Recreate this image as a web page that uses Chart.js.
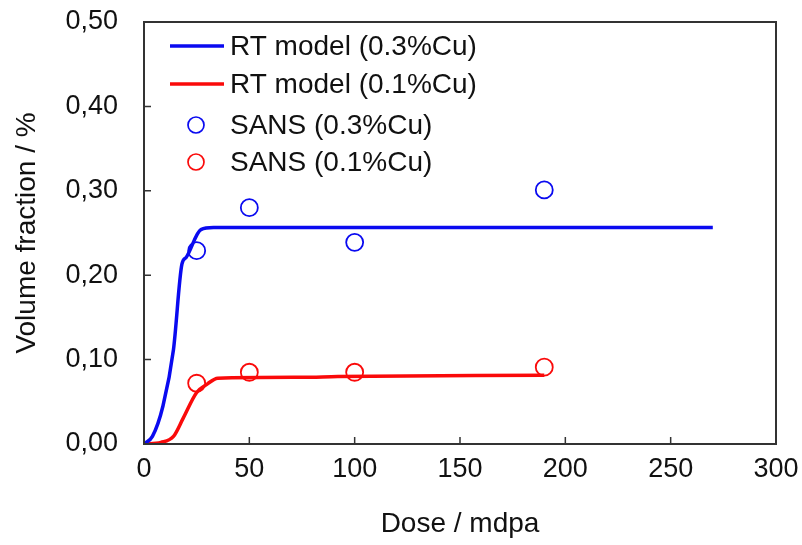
<!DOCTYPE html>
<html>
<head>
<meta charset="UTF-8" />
<title>Volume fraction vs dose</title>
<script src="https://cdn.jsdelivr.net/npm/chart.js"></script>
<style>
  body { margin: 0; background: #fff; }
  #wrap { width: 802px; height: 545px; }
</style>
</head>
<body>
<div id="wrap"><canvas id="myChart"></canvas></div>
<script>
// model curves
var rtHighX = [0, 4, 9, 14, 18, 20, 27, 33, 270];
var rtHighY = [0, 0.009, 0.045, 0.112, 0.213, 0.221, 0.254, 0.2565, 0.2565];
var rtLowX = [0, 8, 14, 18.5, 25, 30, 35, 75, 92, 190];
var rtLowY = [0, 0.002, 0.009, 0.030, 0.061, 0.071, 0.078, 0.079, 0.080, 0.0815];

// SANS measurements
var sansDose = [25, 50, 100, 190];
var sansHigh = [0.229, 0.280, 0.239, 0.301];
var sansLow = [0.072, 0.085, 0.085, 0.091];

var labels = ["RT model (0.3%Cu)", "RT model (0.1%Cu)", "SANS (0.3%Cu)", "SANS (0.1%Cu)"];
var xTicks = [0, 50, 100, 150, 200, 250, 300];
var yTicks = [0, 0.1, 0.2, 0.3, 0.4, 0.5];

var blue = "rgb(10,10,240)";
var red = "rgb(250,10,10)";
var axisColor = "#333";
var font = "Liberation Sans, Arial, sans-serif";

function pts(xs, ys) {
  var out = [];
  for (var i = 0; i < xs.length; i++) out.push({ x: xs[i], y: ys[i] });
  return out;
}

// box, inward ticks and legend
var decor = {
  id: "decor",
  afterDraw: function (chart) {
    var c = chart.ctx, a = chart.chartArea;
    var xs = chart.scales.x, ys = chart.scales.y;
    c.save();
    c.strokeStyle = axisColor;
    c.lineWidth = 2;
    c.strokeRect(a.left, a.top, a.right - a.left, a.bottom - a.top);
    c.lineWidth = 1.5;
    c.beginPath();
    xTicks.slice(1, -1).forEach(function (v) {
      var px = xs.getPixelForValue(v);
      c.moveTo(px, a.bottom);
      c.lineTo(px, a.bottom - 7);
    });
    yTicks.slice(1, -1).forEach(function (v) {
      var py = ys.getPixelForValue(v);
      c.moveTo(a.left, py);
      c.lineTo(a.left + 7, py);
    });
    c.stroke();

    // legend
    var rows = [46, 84, 125, 162];
    var ds = chart.data.datasets;
    c.font = "28px " + font;
    c.textBaseline = "middle";
    for (var i = 0; i < ds.length; i++) {
      var y = rows[i];
      c.strokeStyle = ds[i].borderColor;
      if (ds[i].showLine) {
        c.lineWidth = 3.5;
        c.beginPath();
        c.moveTo(170, y);
        c.lineTo(224, y);
        c.stroke();
      } else {
        c.lineWidth = 1.7;
        c.beginPath();
        c.arc(196, y, 8, 0, Math.PI * 2);
        c.stroke();
      }
      c.fillStyle = "#111";
      c.fillText(ds[i].label, 230, y + 1);
    }
    c.restore();
  }
};

new Chart(document.getElementById("myChart"), {
  type: "scatter",
  data: {
    datasets: [
      { label: labels[0], data: pts(rtHighX, rtHighY), showLine: true, borderColor: blue, borderWidth: 3.5, pointRadius: 0, cubicInterpolationMode: "monotone" },
      { label: labels[1], data: pts(rtLowX, rtLowY), showLine: true, borderColor: red, borderWidth: 3.5, pointRadius: 0, cubicInterpolationMode: "monotone" },
      { label: labels[2], data: pts(sansDose, sansHigh), borderColor: blue, backgroundColor: "rgba(0,0,0,0)", pointRadius: 8.5, borderWidth: 1.8 },
      { label: labels[3], data: pts(sansDose, sansLow), borderColor: red, backgroundColor: "rgba(0,0,0,0)", pointRadius: 8.5, borderWidth: 1.8 }
    ]
  },
  options: {
    responsive: true,
    maintainAspectRatio: false,
    animation: false,
    layout: { padding: { left: 0, top: 22, right: 26, bottom: 0 } },
    plugins: { legend: { display: false }, tooltip: { enabled: false } },
    scales: {
      x: {
        min: 0, max: 300,
        afterBuildTicks: function (s) { s.ticks = xTicks.map(function (v) { return { value: v }; }); },
        afterFit: function (s) { s.height = 101; s.paddingLeft = 0; s.paddingRight = 0; },
        grid: { display: false, drawTicks: false },
        border: { display: false },
        ticks: { padding: 9, color: "#111", font: { family: font, size: 27 }, maxRotation: 0 },
        title: { display: true, text: "Dose / mdpa", color: "#111", font: { family: font, size: 28 }, padding: { top: 15 } }
      },
      y: {
        min: 0, max: 0.5,
        afterBuildTicks: function (s) { s.ticks = yTicks.map(function (v) { return { value: v }; }); },
        afterFit: function (s) { s.width = 144; s.paddingTop = 0; s.paddingBottom = 0; },
        grid: { display: false, drawTicks: false },
        border: { display: false },
        ticks: {
          padding: 26, color: "#111", font: { family: font, size: 27 },
          callback: function (v) { return v.toFixed(2).replace(".", ","); }
        },
        title: { display: true, text: "Volume fraction / %", color: "#111", font: { family: font, size: 28 }, padding: { top: 10, bottom: 8 } }
      }
    }
  },
  plugins: [decor]
});
</script>
</body>
</html>
